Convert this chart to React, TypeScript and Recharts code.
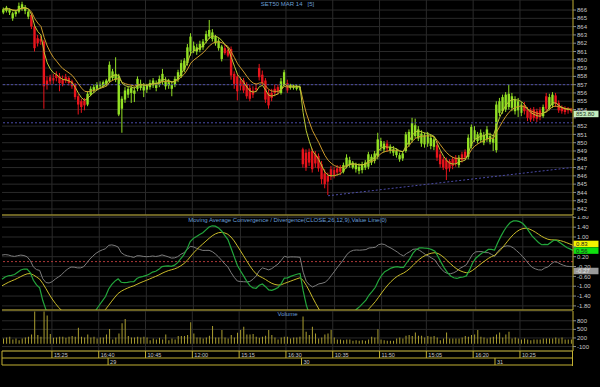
import React from 'react';
import { ComposedChart, Bar, Line, XAxis, YAxis, CartesianGrid, ReferenceLine } from 'recharts';

// 5-minute bars, SET50 futures, 28-31 Mar
const opens = [
  865.7, 865.9, 865.7, 865.0, 865.5, 865.8, 866.1, 865.9, 865.2, 865.4,
  864.0, 862.6, 862.5, 862.2, 857.5, 857.9, 857.8, 858.2, 858.0, 857.6,
  857.9, 857.8, 857.4, 857.0, 855.6, 855.0, 855.1, 854.6, 855.8, 856.3,
  856.5, 856.8, 856.9, 857.1, 857.4, 857.8, 857.6, 853.4, 854.1, 855.2,
  855.8, 856.0, 855.9, 856.5, 856.6, 856.3, 856.4, 856.7, 856.9, 856.6,
  857.0, 857.3, 856.8, 856.9, 856.5, 857.0, 857.6, 858.0, 858.8, 859.6,
  861.0, 861.1, 861.0, 861.2, 861.5, 862.3, 862.8, 862.5, 862.0, 861.4,
  860.1, 861.4, 861.2, 861.3, 858.3, 858.0, 857.5, 857.5, 857.0, 856.6,
  856.3, 856.6, 859.0, 858.2, 857.5, 856.0, 856.0, 856.5, 856.7, 856.0,
  857.0, 857.2, 856.6, 856.6, 856.5, 856.6, 849.2, 848.8, 848.9, 849.0,
  848.6, 848.4, 847.4, 846.3, 846.0, 846.8, 846.7, 846.9, 847.0, 846.5,
  847.1, 847.3, 847.0, 846.8, 846.6, 846.7, 847.0, 847.1, 847.6, 847.8,
  848.3, 849.5, 849.2, 849.9, 849.0, 848.8, 848.5, 848.0, 848.1, 849.0,
  849.8, 850.3, 850.8, 850.5, 849.9, 849.8, 849.9, 849.6, 849.5, 849.7,
  848.6, 848.0, 847.9, 847.8, 848.0, 848.2, 847.3, 848.6, 848.9, 848.3,
  849.6, 850.4, 850.2, 850.3, 850.0, 850.4, 850.1, 850.0, 849.1, 853.6,
  853.8, 854.0, 854.3, 854.2, 853.8, 853.9, 853.6, 854.5, 854.0, 853.9,
  854.0, 853.8, 853.9, 853.2, 855.6, 854.2, 854.5, 855.7, 854.8, 854.3,
  854.2, 854.1, 854.0,
];
const highs = [
  866.3, 866.5, 866.2, 865.8, 866.0, 866.9, 867.0, 866.6, 866.0, 865.6,
  864.2, 863.0, 862.9, 862.4, 858.0, 858.2, 858.3, 858.6, 858.4, 858.1,
  858.3, 858.0, 857.6, 857.2, 855.9, 855.3, 855.4, 856.2, 856.8, 857.0,
  857.3, 857.4, 857.5, 857.7, 859.8, 858.9, 860.3, 858.3, 855.6, 856.7,
  856.8, 856.9, 856.7, 858.0, 857.6, 857.2, 857.1, 857.6, 857.8, 857.5,
  858.1, 858.9, 857.9, 857.7, 857.4, 858.0, 858.8, 860.0, 860.2, 861.9,
  863.2, 862.2, 861.9, 862.3, 862.5, 863.5, 864.8, 863.7, 863.0, 862.6,
  861.8, 861.8, 861.5, 861.6, 858.6, 858.3, 857.9, 857.8, 857.3, 857.0,
  856.8, 857.2, 859.5, 858.7, 857.8, 856.4, 856.5, 857.0, 857.0, 857.8,
  858.8, 857.6, 857.1, 857.0, 857.0, 856.9, 849.4, 849.2, 849.3, 849.3,
  849.0, 848.7, 847.8, 846.8, 846.4, 847.2, 847.1, 847.3, 847.3, 847.6,
  848.6, 848.3, 847.8, 847.6, 847.5, 847.7, 847.9, 848.9, 848.6, 849.0,
  851.2, 850.6, 850.2, 850.3, 849.8, 849.6, 849.3, 848.8, 849.0, 851.3,
  851.6, 853.0, 852.9, 852.0, 851.5, 851.2, 851.3, 851.0, 850.7, 850.2,
  849.0, 848.3, 848.2, 848.0, 848.3, 848.5, 848.5, 848.9, 849.2, 851.0,
  852.2, 852.0, 851.3, 851.6, 851.3, 852.0, 851.2, 850.9, 855.0, 855.4,
  855.8, 856.1, 857.0, 856.0, 855.6, 855.4, 854.9, 854.9, 854.3, 854.2,
  854.3, 854.1, 854.3, 854.6, 856.0, 855.9, 856.1, 856.0, 855.1, 854.5,
  854.4, 854.3, 854.2,
];
const lows = [
  865.5, 865.7, 865.4, 864.7, 865.2, 865.6, 865.9, 865.5, 864.9, 863.7,
  861.0, 861.6, 861.8, 854.1, 856.4, 857.0, 857.1, 857.4, 856.2, 856.8,
  857.2, 856.9, 856.5, 855.2, 853.4, 853.6, 853.9, 854.4, 855.6, 856.0,
  856.3, 856.5, 856.6, 856.8, 857.2, 857.5, 857.3, 853.2, 851.2, 854.8,
  855.4, 854.8, 854.9, 856.2, 856.3, 855.5, 856.0, 856.4, 856.6, 856.2,
  856.7, 857.0, 856.4, 856.5, 855.6, 856.7, 857.3, 857.8, 858.5, 859.3,
  860.5, 860.8, 860.6, 860.9, 861.2, 862.0, 862.5, 862.2, 861.7, 861.1,
  859.8, 860.6, 860.3, 857.6, 856.5, 855.1, 856.3, 856.0, 855.3, 855.0,
  855.4, 856.1, 857.5, 856.9, 854.8, 854.1, 855.0, 855.6, 855.8, 855.8,
  856.8, 856.0, 856.4, 856.4, 856.3, 856.3, 847.0, 846.6, 847.2, 846.4,
  847.0, 846.5, 845.0, 844.5, 843.7, 845.5, 845.7, 846.0, 846.1, 846.3,
  846.9, 847.0, 846.8, 846.4, 846.2, 846.3, 846.7, 846.8, 847.3, 847.5,
  848.0, 849.0, 848.8, 848.9, 848.7, 848.4, 848.2, 847.7, 847.8, 848.8,
  849.5, 850.0, 850.5, 850.2, 849.5, 849.4, 849.5, 849.2, 849.1, 847.8,
  847.0, 846.7, 845.5, 846.5, 846.8, 847.1, 847.0, 847.6, 847.9, 848.0,
  849.3, 850.1, 849.9, 850.0, 849.7, 850.1, 849.8, 849.0, 848.8, 853.2,
  853.5, 853.7, 854.0, 853.8, 853.4, 853.1, 853.2, 853.4, 852.6, 852.5,
  852.6, 852.5, 852.7, 853.0, 853.7, 853.9, 854.2, 854.3, 853.6, 853.5,
  853.4, 853.5, 853.6,
];
const closes = [
  866.1, 866.3, 866.0, 865.6, 865.8, 866.5, 866.7, 866.3, 865.8, 864.0,
  861.4, 862.0, 862.2, 856.8, 857.0, 857.4, 857.5, 857.8, 857.2, 857.1,
  857.5, 857.2, 856.8, 855.5, 854.6, 854.3, 854.5, 855.9, 856.5, 856.7,
  857.0, 857.1, 857.3, 857.5, 859.4, 858.6, 858.3, 858.0, 855.3, 856.3,
  856.5, 856.6, 856.3, 857.7, 857.1, 856.8, 856.9, 857.2, 857.5, 857.1,
  857.7, 858.3, 857.4, 857.3, 857.0, 857.7, 858.5, 859.6, 859.9, 861.5,
  862.8, 861.7, 861.5, 861.9, 862.2, 863.1, 863.6, 863.3, 862.8, 862.3,
  861.6, 860.8, 860.5, 858.1, 857.1, 856.2, 856.8, 856.3, 855.6, 855.3,
  855.8, 856.4, 857.9, 857.2, 855.2, 854.5, 855.4, 856.0, 856.2, 857.4,
  858.5, 856.3, 856.9, 856.8, 856.8, 856.7, 847.4, 847.0, 847.6, 846.8,
  847.5, 846.9, 845.6, 845.0, 845.3, 845.9, 846.0, 846.4, 846.5, 847.3,
  848.2, 847.9, 847.6, 847.3, 847.1, 847.4, 847.6, 848.6, 848.3, 848.7,
  850.4, 850.2, 849.9, 849.3, 849.5, 849.2, 849.0, 848.5, 848.7, 851.0,
  851.3, 852.4, 852.1, 851.6, 851.1, 850.9, 851.0, 850.6, 850.4, 848.2,
  847.4, 847.0, 846.8, 846.9, 847.2, 847.5, 848.2, 847.9, 848.2, 850.6,
  851.9, 851.5, 851.0, 851.2, 850.9, 851.6, 850.8, 850.5, 854.6, 855.0,
  855.5, 855.8, 855.9, 855.6, 855.2, 855.0, 854.6, 853.8, 853.0, 852.8,
  853.0, 852.9, 853.1, 854.3, 854.1, 855.5, 855.8, 854.7, 853.9, 853.8,
  853.7, 853.9, 853.8,
];
const volumes = [
  183, 218, 241, 147, 183, 124, 183, 218, 241, 324,
  1124, 300, 241, 1124, 982, 335, 206, 218, 241, 241,
  206, 241, 265, 241, 559, 241, 218, 324, 218, 241,
  183, 218, 218, 324, 512, 147, 218, 359, 712, 865,
  265, 218, 218, 241, 218, 241, 218, 124, 183, 147,
  206, 147, 324, 124, 183, 147, 265, 265, 265, 300,
  747, 359, 218, 218, 183, 218, 277, 618, 218, 218,
  477, 218, 183, 300, 218, 382, 477, 594, 324, 324,
  335, 241, 206, 241, 277, 477, 300, 218, 147, 218,
  241, 241, 183, 218, 218, 241, 947, 418, 300, 594,
  359, 183, 218, 324, 359, 477, 218, 147, 147, 124,
  147, 147, 100, 124, 100, 124, 100, 147, 241, 218,
  500, 147, 124, 100, 100, 100, 183, 218, 183, 277,
  300, 265, 394, 277, 277, 218, 265, 241, 265, 218,
  124, 183, 394, 183, 183, 183, 183, 218, 265, 241,
  300, 324, 477, 241, 218, 183, 218, 241, 324, 394,
  218, 324, 418, 183, 218, 183, 147, 183, 147, 124,
  147, 147, 147, 183, 183, 183, 183, 218, 183, 218,
  147, 147, 147,
];

const timeTicks = [0, 16, 31, 46, 61, 76, 91, 106, 121, 136, 151, 166];
const timeLabels = ['', '15:25', '16:40', '10:45', '12:00', '15:15', '16:30', '10:35', '11:50', '15:05', '16:20', '10:25'];
const dayTicks = [0, 34, 96, 158];
const dayLabels = ['', '29', '30', '31'];
const priceTicks = [842, 843, 844, 845, 846, 847, 848, 849, 850, 851, 852, 853, 854, 855, 856, 857, 858, 859, 860, 861, 862, 863, 864, 865, 866];
const macdTicks = [1.8, 1.4, 1.0, 0.6, 0.2, -0.2, -0.6, -1.0, -1.4, -1.8];
const volumeTicks = [800, 500, 200, -100];
// tick labels that the value badges cover
const coveredPriceTicks = [853];
const coveredMacdTicks = [0.6];
const priceLevels = [857, 852.4];
const trendLine = [{ x: 104, y: 843.6 }, { x: 182, y: 847.0 }];
const macdBadgeValues = [0.83, 0.56, -0.27];
const macdSeed = { fast: 865.8, slow: 866.6, signal: -1.05 };

const FRAME = '#c2b032';
const GRID = '#2a2a2a';
const TEXT = '#c8c8c8';
const TITLE = '#6a9fd6';
const UP = '#92e024';
const DOWN = '#e8141c';
const FONT = '"Liberation Sans", Arial, sans-serif';
const badgeStyles = [
  { bg: '#f4f400', fg: '#222' },
  { bg: '#10e010', fg: '#222' },
  { bg: '#9a9a9a', fg: '#e0e0e0' },
];

const ema = (src: number[], n: number, start: number) => {
  const k = 2 / (n + 1);
  let prev = start;
  return src.map((v) => (prev += k * (v - prev)));
};

const fastMA = ema(closes, 5, closes[0]);
const slowMA = ema(closes, 10, closes[0]);
const ema12 = ema(closes, 12, macdSeed.fast);
const ema26 = ema(closes, 26, macdSeed.slow);
const macd = ema12.map((v, i) => v - ema26[i]);
const signal = ema(macd, 9, macdSeed.signal);
const hist = macd.map((v, i) => v - signal[i]);

const rows = closes.map((c, i) => ({
  i,
  o: opens[i],
  h: highs[i],
  l: lows[i],
  c,
  v: volumes[i],
  fast: fastMA[i],
  slow: slowMA[i],
  macd: macd[i],
  signal: signal[i],
  hist: hist[i],
}));

const Candle = (props: any) => {
  const { x, y, width, height, payload } = props;
  const { o, h, l, c } = payload;
  const color = c >= o ? UP : DOWN;
  const top = Math.min(y, y + height);
  const hh = Math.abs(height);
  const k = h - l > 0 ? hh / (h - l) : 0;
  const b1 = top + (h - Math.max(o, c)) * k;
  const b2 = top + (h - Math.min(o, c)) * k;
  const cx = x + width / 2;
  return (
    <g>
      <line x1={cx} x2={cx} y1={top} y2={top + hh} stroke={color} strokeWidth={1} />
      <rect x={cx - 1.2} y={b1} width={2.4} height={Math.max(0.8, b2 - b1)} fill={color} />
    </g>
  );
};

const badge = (text: string, bg: string, fg: string) => (p: any) => {
  const { x, y, width } = p.viewBox;
  return (
    <g>
      <rect x={x + width + 0.5} y={y - 0.5} width={25} height={6.5} fill={bg} />
      <text x={x + width + 3} y={y + 5} fontSize={6} fill={fg} fontFamily={FONT}>{text}</text>
    </g>
  );
};

const BoxTick = (props: any) => {
  const { x, y, payload, ticks, labels } = props;
  const left = x - (payload.offset ?? 0);
  const label = labels[ticks.indexOf(payload.value)] ?? '';
  return (
    <g>
      <line x1={left} x2={left} y1={y} y2={y + 7} stroke={FRAME} />
      <text x={left + 2} y={y + 5.5} fontSize={5.5} fill={TEXT} fontFamily={FONT}>{label}</text>
    </g>
  );
};

const gridLines = timeTicks.slice(1).map((t) => (
  <ReferenceLine key={'g' + t} x={t} position="start" stroke={GRID} />
));

const axisTick = { fill: TEXT, fontSize: 6, fontFamily: FONT };
const titleStyle: React.CSSProperties = {
  position: 'absolute',
  left: 2,
  width: 571,
  textAlign: 'center',
  color: TITLE,
  fontSize: 6,
  lineHeight: '7px',
  fontFamily: FONT,
  whiteSpace: 'pre',
};

export default function App() {
  const last = closes[closes.length - 1];
  return (
    <div style={{ position: 'fixed', left: 0, top: 0, width: 600, height: 387, background: '#000', overflow: 'hidden' }}>
      <div style={{ position: 'absolute', left: 0, top: 0 }}>
        <ComposedChart width={600} height={216} data={rows} margin={{ top: 0, right: 0, bottom: 0, left: 2 }}>
          <CartesianGrid stroke={GRID} vertical={false} />
          {gridLines}
          <XAxis dataKey="i" type="category" height={1} tick={false} tickLine={false} axisLine={{ stroke: FRAME }} />
          <YAxis
            orientation="right"
            width={27}
            domain={[841.28, 867.21]}
            ticks={priceTicks}
            interval={0}
            allowDataOverflow
            tick={axisTick}
            tickSize={3}
            tickMargin={1}
            tickLine={{ stroke: '#8a8a8a' }}
            axisLine={{ stroke: FRAME }}
            tickFormatter={(v: number) => (coveredPriceTicks.includes(v) ? '' : String(v))}
          />
          {priceLevels.map((p) => (
            <ReferenceLine key={p} y={p} stroke="#4c4ca8" strokeDasharray="2 2" />
          ))}
          <ReferenceLine segment={trendLine} stroke="#4c4ca8" strokeDasharray="2 2" />
          <Bar dataKey={(d: any) => [d.l, d.h]} shape={(p: any) => <Candle {...p} />} isAnimationActive={false} />
          <Line dataKey="slow" stroke="#cc9a2c" strokeWidth={1} dot={false} activeDot={false} isAnimationActive={false} />
          <Line dataKey="fast" stroke="#b9c934" strokeWidth={1} dot={false} activeDot={false} isAnimationActive={false} />
          <ReferenceLine y={last} stroke="none" label={badge(last.toFixed(2), '#c4eec0', '#2a3a2a')} />
        </ComposedChart>
      </div>
      <div style={{ ...titleStyle, top: 1 }}>{'SET50 MAR 14   [5]'}</div>

      <div style={{ position: 'absolute', left: 0, top: 216 }}>
        <ComposedChart width={600} height={95} data={rows} margin={{ top: 0, right: 0, bottom: 0, left: 2 }}>
          <CartesianGrid stroke={GRID} vertical={false} />
          {gridLines}
          <XAxis dataKey="i" type="category" height={1} tick={false} tickLine={false} axisLine={{ stroke: FRAME }} />
          <YAxis
            orientation="right"
            width={27}
            domain={[-1.967, 1.854]}
            ticks={macdTicks}
            interval={0}
            allowDataOverflow
            tick={axisTick}
            tickSize={3}
            tickMargin={1}
            tickLine={{ stroke: '#8a8a8a' }}
            axisLine={{ stroke: FRAME }}
            tickFormatter={(v: number) => (coveredMacdTicks.includes(v) ? '' : v.toFixed(2))}
          />
          <ReferenceLine y={0} stroke="#b03a3a" strokeDasharray="2 2" />
          <Line dataKey="hist" stroke="#7c7c7c" strokeWidth={1} dot={false} activeDot={false} isAnimationActive={false} />
          <Line dataKey="signal" stroke="#c9bb2a" strokeWidth={1} dot={false} activeDot={false} isAnimationActive={false} />
          <Line dataKey="macd" stroke="#23a63c" strokeWidth={1.2} dot={false} activeDot={false} isAnimationActive={false} />
          {macdBadgeValues.map((v, k) => (
            <ReferenceLine
              key={'b' + k}
              y={v}
              stroke="none"
              label={badge(v.toFixed(2), badgeStyles[k].bg, badgeStyles[k].fg)}
            />
          ))}
        </ComposedChart>
      </div>
      <div style={{ ...titleStyle, top: 217 }}>
        {'Moving Average Convergence / Divergence(CLOSE,26,12,9),Value Line(0)'}
      </div>

      <div style={{ position: 'absolute', left: 0, top: 311 }}>
        <ComposedChart width={600} height={55} data={rows} margin={{ top: 0, right: 0, bottom: 0, left: 2 }}>
          <CartesianGrid stroke={GRID} vertical={false} />
          {gridLines}
          <XAxis
            dataKey="i"
            type="category"
            height={7}
            ticks={timeTicks}
            interval={0}
            tickSize={0}
            tickMargin={0}
            tickLine={false}
            axisLine={{ stroke: FRAME }}
            tick={(p: any) => <BoxTick {...p} ticks={timeTicks} labels={timeLabels} />}
          />
          <XAxis
            dataKey="i"
            xAxisId="day"
            type="category"
            height={7}
            ticks={dayTicks}
            interval={0}
            tickSize={0}
            tickMargin={0}
            tickLine={false}
            axisLine={{ stroke: FRAME }}
            tick={(p: any) => <BoxTick {...p} ticks={dayTicks} labels={dayLabels} />}
          />
          <XAxis dataKey="i" xAxisId="edge" type="category" height={1} tick={false} tickLine={false} axisLine={{ stroke: FRAME }} />
          <YAxis
            orientation="right"
            width={27}
            domain={[-255, 1141]}
            ticks={volumeTicks}
            interval={0}
            allowDataOverflow
            tick={axisTick}
            tickSize={3}
            tickMargin={1}
            tickLine={{ stroke: '#8a8a8a' }}
            axisLine={{ stroke: FRAME }}
          />
          <Bar dataKey="v" fill="#aa9e30" barSize={1} isAnimationActive={false} />
        </ComposedChart>
      </div>
      <div style={{ ...titleStyle, top: 311 }}>Volume</div>
      <div style={{ position: 'absolute', left: 572, top: 351, width: 1, height: 15, background: FRAME }} />
    </div>
  );
}
